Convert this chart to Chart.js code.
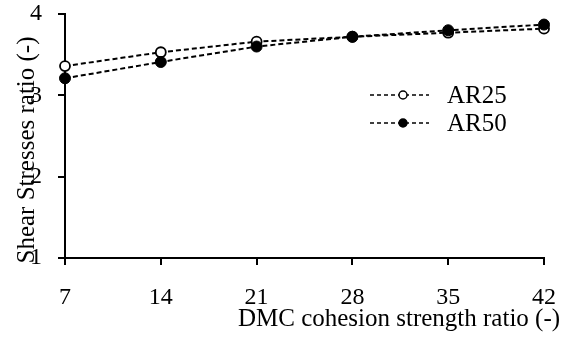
<!DOCTYPE html>
<html>
<head>
<meta charset="utf-8">
<script src="https://cdn.jsdelivr.net/npm/chart.js@4.4.1/dist/chart.umd.min.js"></script>
<style>
  html, body { margin: 0; padding: 0; background: #fff; }
  #wrap { width: 577px; height: 338px; position: relative; }
</style>
</head>
<body>
<div id="wrap"><canvas id="c" width="577" height="338"></canvas></div>
<script>
const xValues = [7, 14, 21, 28, 35, 42];
const ar25 = [3.36, 3.53, 3.66, 3.72, 3.77, 3.82];
const ar50 = [3.21, 3.41, 3.60, 3.72, 3.80, 3.87];
const xTicks = [7, 14, 21, 28, 35, 42];
const yTicks = [1, 2, 3, 4];
const seriesLabels = ['AR25', 'AR50'];
const xTitle = 'DMC cohesion strength ratio (-)';
const yTitle = 'Shear Stresses ratio (-)';

const FONT = "'Liberation Serif', 'Times New Roman', serif";

const toPts = arr => xValues.map((x, i) => ({ x: x, y: arr[i] }));

const titlesAndLegend = {
  id: 'titlesAndLegend',
  afterDraw(chart) {
    const ctx = chart.ctx;
    ctx.save();
    ctx.fillStyle = '#000';
    ctx.font = '25px ' + FONT;
    // x title
    ctx.textAlign = 'center';
    ctx.textBaseline = 'alphabetic';
    ctx.fillText(xTitle, 399, 326);
    // y title
    ctx.save();
    ctx.translate(34, 150);
    ctx.rotate(-Math.PI / 2);
    ctx.textAlign = 'center';
    ctx.textBaseline = 'alphabetic';
    ctx.fillText(yTitle, 0, 0);
    ctx.restore();
    // legend
    const order = [1, 0]; // dataset indices: AR25, AR50
    const ys = [95, 123];
    order.forEach((di, k) => {
      const ds = chart.data.datasets[di];
      const y = ys[k];
      ctx.save();
      ctx.strokeStyle = '#000';
      ctx.lineWidth = 1.5;
      ctx.setLineDash([4, 3]);
      ctx.beginPath();
      ctx.moveTo(370, y);
      ctx.lineTo(429, y);
      ctx.stroke();
      ctx.setLineDash([]);
      ctx.beginPath();
      ctx.arc(403, y, 4, 0, Math.PI * 2);
      ctx.fillStyle = ds.pointBackgroundColor;
      ctx.fill();
      ctx.lineWidth = 1.5;
      ctx.stroke();
      ctx.restore();
      ctx.font = '25px ' + FONT;
      ctx.textAlign = 'left';
      ctx.textBaseline = 'middle';
      ctx.fillStyle = '#000';
      ctx.fillText(ds.label, 447, y + 1);
    });
    ctx.restore();
  }
};

new Chart(document.getElementById('c'), {
  type: 'line',
  data: {
    datasets: [
      {
        label: seriesLabels[1],
        data: toPts(ar50),
        borderColor: '#000',
        borderWidth: 2,
        borderDash: [5, 3],
        pointRadius: 5.5,
        pointBackgroundColor: '#000',
        pointBorderColor: '#000',
        pointBorderWidth: 1,
        fill: false,
        tension: 0,
        clip: false
      },
      {
        label: seriesLabels[0],
        data: toPts(ar25),
        borderColor: '#000',
        borderWidth: 2,
        borderDash: [5, 3],
        pointRadius: 5,
        pointBackgroundColor: '#fff',
        pointBorderColor: '#000',
        pointBorderWidth: 1.8,
        fill: false,
        tension: 0,
        clip: false
      }
    ]
  },
  options: {
    responsive: false,
    animation: false,
    devicePixelRatio: 1,
    layout: { padding: { left: 0, top: 14, right: 33, bottom: 0 } },
    plugins: {
      legend: { display: false },
      tooltip: { enabled: false },
      title: { display: false }
    },
    scales: {
      x: {
        type: 'linear',
        min: xTicks[0],
        max: xTicks[xTicks.length - 1],
        afterBuildTicks: s => { s.ticks = xTicks.map(v => ({ value: v })); },
        afterFit: s => { s.height = 80; s.paddingLeft = 0; s.paddingRight = 0; },
        grid: { drawOnChartArea: false, drawTicks: true, tickLength: 7, color: '#000', lineWidth: 2 },
        border: { display: true, color: '#000', width: 2 },
        ticks: { color: '#000', font: { family: FONT, size: 24 }, padding: 18, maxRotation: 0, autoSkip: false }
      },
      y: {
        type: 'linear',
        min: yTicks[0],
        max: yTicks[yTicks.length - 1],
        afterBuildTicks: s => { s.ticks = yTicks.map(v => ({ value: v })); },
        afterFit: s => { s.width = 65; s.paddingTop = 0; s.paddingBottom = 0; },
        grid: { drawOnChartArea: false, drawTicks: true, tickLength: 7, color: '#000', lineWidth: 2 },
        border: { display: true, color: '#000', width: 2 },
        ticks: { color: '#000', font: { family: FONT, size: 24 }, padding: 16 }
      }
    }
  },
  plugins: [titlesAndLegend]
});
</script>
</body>
</html>
